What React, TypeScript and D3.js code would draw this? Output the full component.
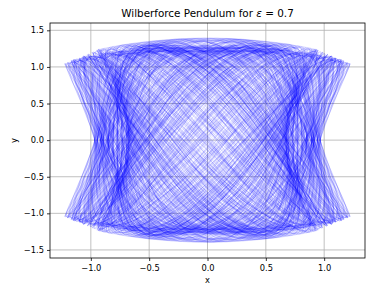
import React, { useEffect, useRef } from 'react';
import * as d3 from 'd3';

// coupling constant from the title and the y/x frequency ratio
const EPSILON = 0.7;
const OMEGA_Y = 2;
const startX = [-1.224, -1.2, -1.17, -1.15, -1.12, -1.1, -1.06, -1.03, -0.99, -0.95, -0.935];
const startY = [1.045, 1.06, 1.085, 1.1, 1.11, 1.12, 1.15, 1.17, 1.2, 1.23, 1.24];
const RUN_TIME = 175;
const DT = 0.02;

const xTicks = [-1.0, -0.5, 0.0, 0.5, 1.0];
const yTicks = [-1.5, -1.0, -0.5, 0.0, 0.5, 1.0, 1.5];
const xDomain: [number, number] = [-1.35, 1.35];
const yDomain: [number, number] = [-1.61, 1.6];

type Pt = [number, number];

// x'' = -x - 2 eps x y^2 ,  y'' = -w^2 y - 2 eps x^2 y
function accel(x: number, y: number): Pt {
  return [-x - 2 * EPSILON * x * y * y, -OMEGA_Y * OMEGA_Y * y - 2 * EPSILON * x * x * y];
}

function simulate(x0: number, y0: number): Pt[] {
  const pts: Pt[] = [];
  let x = x0, y = y0, vx = 0, vy = 0;
  const h = DT;
  for (let i = 0; i < RUN_TIME / h; i++) {
    pts.push([x, y]);
    const a1 = accel(x, y);
    const v2x = vx + a1[0] * h / 2, v2y = vy + a1[1] * h / 2;
    const a2 = accel(x + vx * h / 2, y + vy * h / 2);
    const v3x = vx + a2[0] * h / 2, v3y = vy + a2[1] * h / 2;
    const a3 = accel(x + v2x * h / 2, y + v2y * h / 2);
    const v4x = vx + a3[0] * h, v4y = vy + a3[1] * h;
    const a4 = accel(x + v3x * h, y + v3y * h);
    x += (h / 6) * (vx + 2 * v2x + 2 * v3x + v4x);
    y += (h / 6) * (vy + 2 * v2y + 2 * v3y + v4y);
    vx += (h / 6) * (a1[0] + 2 * a2[0] + 2 * a3[0] + a4[0]);
    vy += (h / 6) * (a1[1] + 2 * a2[1] + 2 * a3[1] + a4[1]);
  }
  return pts;
}

const App: React.FC = () => {
  const svgRef = useRef<SVGSVGElement | null>(null);

  useEffect(() => {
    if (!svgRef.current) return;
    const svg = d3.select(svgRef.current);
    svg.selectAll('*').remove();

    const left = 50, right = 365, top = 23, bottom = 258;
    const x = d3.scaleLinear().domain(xDomain).range([left, right]);
    const y = d3.scaleLinear().domain(yDomain).range([bottom, top]);

    const clip = svg.append('clipPath').attr('id', 'plot-area');
    clip.append('rect').attr('x', left).attr('y', top).attr('width', right - left).attr('height', bottom - top);

    // grid
    const grid = svg.append('g').attr('stroke', '#b0b0b0').attr('stroke-width', 0.8);
    grid.selectAll('line.gx').data(xTicks).enter().append('line')
      .attr('x1', (d) => x(d)).attr('x2', (d) => x(d)).attr('y1', top).attr('y2', bottom);
    grid.selectAll('line.gy').data(yTicks).enter().append('line')
      .attr('y1', (d) => y(d)).attr('y2', (d) => y(d)).attr('x1', left).attr('x2', right);

    // trajectories, split in short pieces so overlaps build up like the original
    const line = d3.line<Pt>().x((d) => x(d[0])).y((d) => y(d[1]));
    const pieces: Pt[][] = [];
    startX.forEach((sx, i) => {
      const pts = simulate(sx, startY[i]);
      // keep only box orbits (they pass close to the centre); drop resonant loops
      const minR = d3.min(pts, (p) => Math.hypot(p[0], p[1])) ?? 1;
      if (minR > 0.12) return;
      for (let k = 0; k < pts.length; k += 60) pieces.push(pts.slice(k, k + 61));
    });
    svg.append('g').attr('clip-path', 'url(#plot-area)')
      .selectAll('path').data(pieces).enter().append('path')
      .attr('d', (d) => line(d) || '')
      .attr('fill', 'none')
      .attr('stroke', '#0000ff')
      .attr('stroke-opacity', 0.1)
      .attr('stroke-width', 1);

    // axes
    const fmt = d3.format('.1f');
    const xAxis = svg.append('g').attr('transform', `translate(0,${bottom})`)
      .call(d3.axisBottom(x).tickValues(xTicks).tickFormat((d) => fmt(d as number)).tickSize(3).tickSizeOuter(0).tickPadding(4.5));
    const yAxis = svg.append('g').attr('transform', `translate(${left},0)`)
      .call(d3.axisLeft(y).tickValues(yTicks).tickFormat((d) => fmt(d as number)).tickSize(3).tickSizeOuter(0).tickPadding(3));
    [xAxis, yAxis].forEach((g) => {
      g.select('.domain').remove();
      g.selectAll('line').attr('stroke', '#000').attr('stroke-width', 0.8);
      g.selectAll('text').attr('font-size', 8.3).attr('fill', '#000').attr('font-family', 'DejaVu Sans');
    });

    svg.append('rect').attr('x', left).attr('y', top).attr('width', right - left).attr('height', bottom - top)
      .attr('fill', 'none').attr('stroke', '#000').attr('stroke-width', 0.8);

    svg.append('text').attr('x', (left + right) / 2).attr('y', 282.5).attr('text-anchor', 'middle')
      .attr('font-size', 8.3).attr('font-family', 'DejaVu Sans').text('x');
    svg.append('text').attr('transform', `translate(16.5,${(top + bottom) / 2}) rotate(-90)`).attr('text-anchor', 'middle')
      .attr('font-size', 8.3).attr('font-family', 'DejaVu Sans').text('y');

    const title = svg.append('text').attr('x', (left + right) / 2).attr('y', 17).attr('text-anchor', 'middle')
      .attr('font-size', 10.4).attr('font-family', 'DejaVu Sans');
    title.append('tspan').text('Wilberforce Pendulum for ');
    title.append('tspan').attr('font-style', 'italic').text('ε');
    title.append('tspan').text(' = 0.7');
  }, []);

  return (
    <svg ref={svgRef} width={367} height={285}
      style={{ position: 'absolute', left: 0, top: 0, background: '#fff' }} />
  );
};

export default App;
